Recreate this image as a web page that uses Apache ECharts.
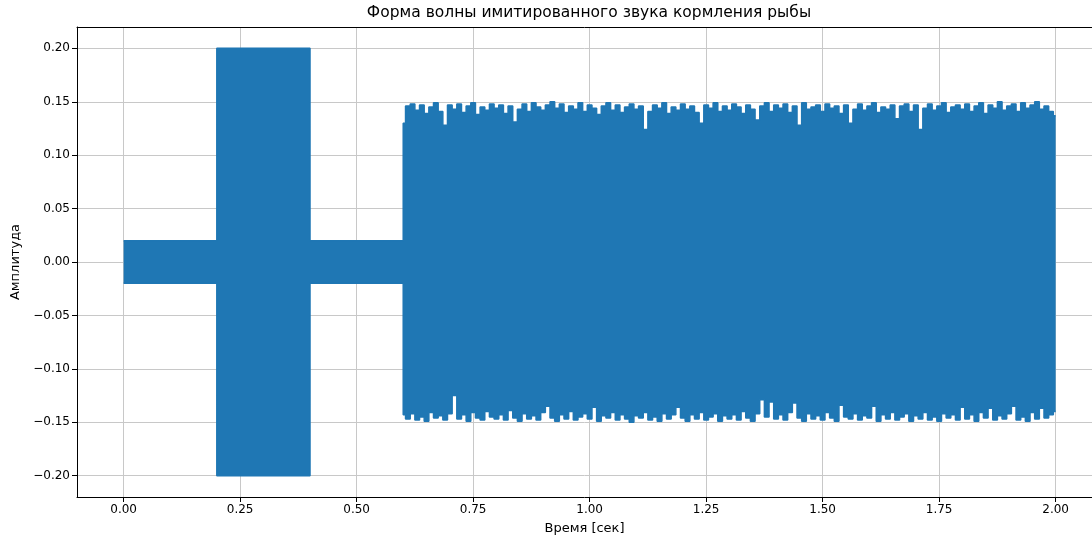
<!DOCTYPE html>
<html>
<head>
<meta charset="utf-8">
<script src="https://cdn.jsdelivr.net/npm/echarts@6/dist/echarts.min.js"></script>
<style>
  html, body { margin: 0; padding: 0; background: #fff; }
  #chart { width: 1092px; height: 540px; }
</style>
</head>
<body>
<div id="chart"></div>
<script>
// tone bursts before the noise: time [s], upper and lower envelope
const burstTimes = [0, 0.2, 0.2, 0.4, 0.4, 0.6];
const burstUpper = [0.02, 0.02, 0.2, 0.2, 0.02, 0.02];
const burstLower = [-0.02, -0.02, -0.2, -0.2, -0.02, -0.02];

const noiseStart = 0.6;
const noiseStep = 0.01;
const noiseUpper = [
  0.130, 0.146, 0.148, 0.142, 0.147, 0.139, 0.145, 0.149, 0.141, 0.128,
  0.147, 0.143, 0.148, 0.140, 0.146, 0.149, 0.138, 0.145, 0.142, 0.148,
  0.144, 0.147, 0.139, 0.146, 0.131, 0.143, 0.148, 0.141, 0.149, 0.145,
  0.142, 0.147, 0.150, 0.144, 0.148, 0.140, 0.146, 0.143, 0.149, 0.141,
  0.147, 0.144, 0.138, 0.146, 0.149, 0.142, 0.147, 0.140, 0.145, 0.148,
  0.143, 0.146, 0.124, 0.141, 0.147, 0.144, 0.149, 0.139, 0.145, 0.142,
  0.148, 0.143, 0.146, 0.140, 0.130, 0.147, 0.144, 0.149, 0.141, 0.146,
  0.142, 0.148, 0.145, 0.139, 0.147, 0.143, 0.133, 0.146, 0.149, 0.141,
  0.147, 0.144, 0.148, 0.140, 0.146, 0.128, 0.149, 0.143, 0.145, 0.147,
  0.141, 0.148, 0.144, 0.146, 0.139, 0.147, 0.130, 0.143, 0.148, 0.142,
  0.146, 0.149, 0.140, 0.145, 0.143, 0.147, 0.134, 0.146, 0.148, 0.141,
  0.147, 0.124, 0.144, 0.148, 0.142, 0.146, 0.149, 0.140, 0.145, 0.147,
  0.143, 0.148, 0.141, 0.146, 0.149, 0.139, 0.147, 0.144, 0.150, 0.142,
  0.146, 0.148, 0.141, 0.149, 0.144, 0.147, 0.150, 0.143, 0.146, 0.141,
  0.137
];
const noiseLower = [
  -0.143, -0.147, -0.142, -0.148, -0.145, -0.149, -0.141, -0.146, -0.144, -0.148,
  -0.142, -0.125, -0.147, -0.143, -0.149, -0.141, -0.146, -0.148, -0.140, -0.145,
  -0.147, -0.143, -0.148, -0.139, -0.146, -0.149, -0.142, -0.147, -0.144, -0.148,
  -0.141, -0.135, -0.146, -0.149, -0.143, -0.147, -0.140, -0.148, -0.145, -0.142,
  -0.147, -0.136, -0.149, -0.144, -0.146, -0.141, -0.148, -0.143, -0.147, -0.150,
  -0.144, -0.146, -0.141, -0.148, -0.145, -0.149, -0.142, -0.147, -0.143, -0.136,
  -0.146, -0.149, -0.143, -0.147, -0.141, -0.148, -0.145, -0.142, -0.149, -0.144,
  -0.147, -0.143, -0.148, -0.140, -0.146, -0.149, -0.142, -0.129, -0.145, -0.131,
  -0.147, -0.143, -0.148, -0.141, -0.132, -0.146, -0.149, -0.142, -0.147, -0.144,
  -0.148, -0.141, -0.146, -0.149, -0.134, -0.145, -0.147, -0.142, -0.148, -0.144,
  -0.146, -0.135, -0.149, -0.143, -0.147, -0.141, -0.148, -0.145, -0.142, -0.149,
  -0.144, -0.147, -0.141, -0.148, -0.145, -0.149, -0.142, -0.146, -0.143, -0.148,
  -0.136, -0.147, -0.143, -0.149, -0.141, -0.146, -0.137, -0.148, -0.144, -0.147,
  -0.142, -0.135, -0.148, -0.145, -0.149, -0.141, -0.147, -0.137, -0.146, -0.143,
  -0.140
];

const xTicks = [0, 0.25, 0.5, 0.75, 1.0, 1.25, 1.5, 1.75, 2.0];
const yTicks = [-0.2, -0.15, -0.1, -0.05, 0, 0.05, 0.1, 0.15, 0.2];

function envelope(burst, noise) {
  const pts = burstTimes.map((t, i) => [t, burst[i]]);
  noise.forEach((v, i) => pts.push([+(noiseStart + i * noiseStep).toFixed(2), v]));
  return pts;
}

const fmt = (v) => v.toFixed(2).replace('-', '\u2212');
const font = 'DejaVu Sans';
const gridColor = '#c8c8c8';
const blue = '#1f77b4';

// the original axes run past the right edge of the picture, so the x range is cut there
const xMin = -0.1, xMax = 2.078;

const chart = echarts.init(document.getElementById('chart'));
chart.setOption({
  animation: false,
  backgroundColor: '#fff',
  textStyle: { fontFamily: font },
  title: {
    text: 'Форма волны имитированного звука кормления рыбы',
    left: 589,
    top: 5,
    padding: 0,
    textAlign: 'center',
    textStyle: { fontFamily: font, fontSize: 15.5, fontWeight: 'normal', color: '#000' }
  },
  grid: { left: 77, top: 27, right: 0, height: 471 },
  xAxis: [{
    type: 'value',
    min: xMin,
    max: xMax,
    name: 'Время [сек]',
    nameLocation: 'middle',
    nameGap: 25,
    nameTextStyle: { fontFamily: font, fontSize: 13, color: '#000' },
    axisLine: { onZero: false, lineStyle: { color: '#000', width: 1 } },
    axisTick: { show: true, inside: false, length: 5, customValues: xTicks, lineStyle: { color: '#000' } },
    axisLabel: { customValues: xTicks, formatter: fmt, fontSize: 12, color: '#000', margin: 7 },
    splitLine: { show: true, lineStyle: { color: gridColor, width: 1 } }
  }, {
    type: 'value',
    position: 'top',
    min: xMin,
    max: xMax,
    axisLine: { onZero: false, lineStyle: { color: '#000', width: 1 } },
    axisTick: { show: false },
    axisLabel: { show: false },
    splitLine: { show: false }
  }],
  yAxis: {
    type: 'value',
    min: -0.22,
    max: 0.22,
    name: 'Амплитуда',
    nameLocation: 'middle',
    nameGap: 55,
    nameTextStyle: { fontFamily: font, fontSize: 13, color: '#000' },
    axisLine: { show: true, onZero: false, lineStyle: { color: '#000', width: 1 } },
    axisTick: { show: true, inside: false, length: 5, customValues: yTicks, lineStyle: { color: '#000' } },
    axisLabel: { customValues: yTicks, formatter: fmt, fontSize: 12, color: '#000', margin: 7 },
    splitLine: { show: true, lineStyle: { color: gridColor, width: 1 } }
  },
  series: [
    {
      type: 'line',
      data: envelope(burstUpper, noiseUpper),
      step: 'middle',
      showSymbol: false,
      lineStyle: { color: blue, width: 1.5 },
      areaStyle: { color: blue, opacity: 1 },
      itemStyle: { color: blue }
    },
    {
      type: 'line',
      data: envelope(burstLower, noiseLower),
      step: 'middle',
      showSymbol: false,
      lineStyle: { color: blue, width: 1.5 },
      areaStyle: { color: blue, opacity: 1 },
      itemStyle: { color: blue }
    }
  ]
});
</script>
</body>
</html>
